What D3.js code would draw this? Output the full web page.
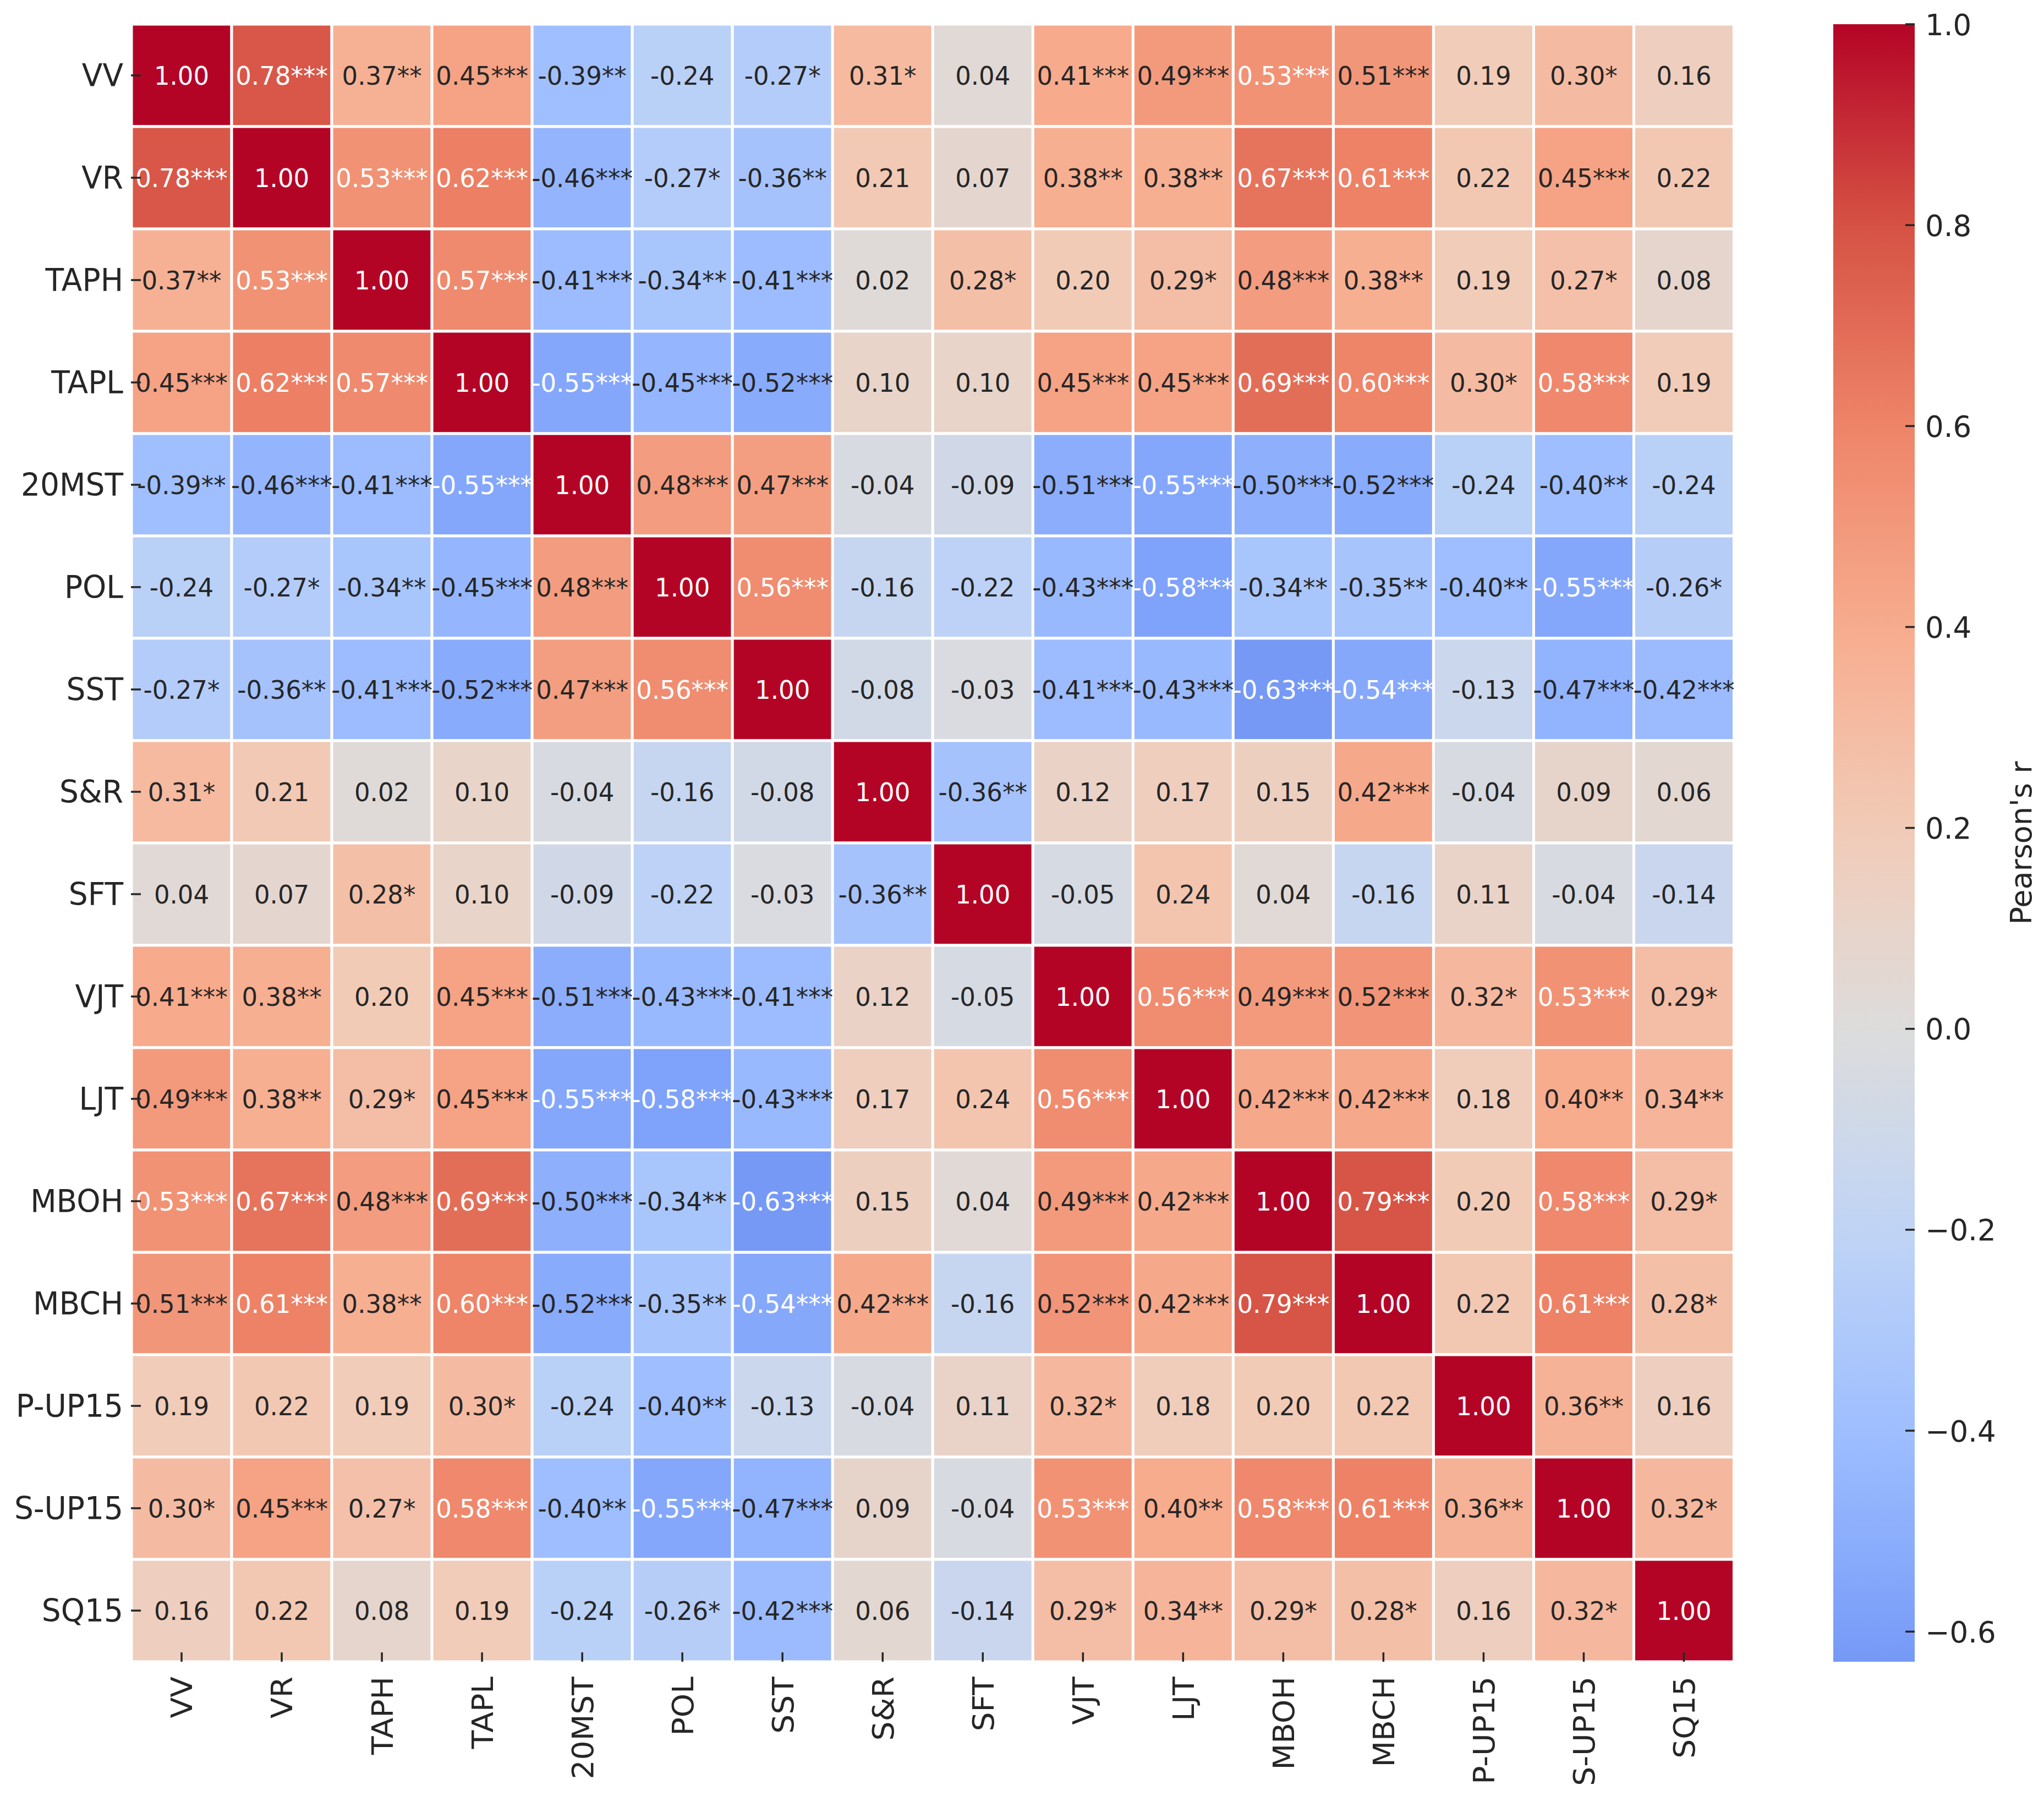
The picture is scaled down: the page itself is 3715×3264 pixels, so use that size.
<!DOCTYPE html>
<html>
<head>
<meta charset="utf-8">
<script src="https://cdn.jsdelivr.net/npm/d3@7"></script>
<style>
  html, body { margin: 0; padding: 0; background: #ffffff; }
  svg { display: block; }
  text { font-family: "DejaVu Sans", sans-serif; }
</style>
</head>
<body>
<svg id="chart" width="3715" height="3264"></svg>
<script>
// ---------------- data ----------------
const labels = ["VV","VR","TAPH","TAPL","20MST","POL","SST","S&R","SFT","VJT","LJT","MBOH","MBCH","P-UP15","S-UP15","SQ15"];

const rowVV    = [1.00, 0.78, 0.37, 0.45, -0.39, -0.24, -0.27, 0.31, 0.04, 0.41, 0.49, 0.53, 0.51, 0.19, 0.30, 0.16];
const rowVR    = [0.78, 1.00, 0.53, 0.62, -0.46, -0.27, -0.36, 0.21, 0.07, 0.38, 0.38, 0.67, 0.61, 0.22, 0.45, 0.22];
const rowTAPH  = [0.37, 0.53, 1.00, 0.57, -0.41, -0.34, -0.41, 0.02, 0.28, 0.20, 0.29, 0.48, 0.38, 0.19, 0.27, 0.08];
const rowTAPL  = [0.45, 0.62, 0.57, 1.00, -0.55, -0.45, -0.52, 0.10, 0.10, 0.45, 0.45, 0.69, 0.60, 0.30, 0.58, 0.19];
const row20MST = [-0.39, -0.46, -0.41, -0.55, 1.00, 0.48, 0.47, -0.04, -0.09, -0.51, -0.55, -0.50, -0.52, -0.24, -0.40, -0.24];
const rowPOL   = [-0.24, -0.27, -0.34, -0.45, 0.48, 1.00, 0.56, -0.16, -0.22, -0.43, -0.58, -0.34, -0.35, -0.40, -0.55, -0.26];
const rowSST   = [-0.27, -0.36, -0.41, -0.52, 0.47, 0.56, 1.00, -0.08, -0.03, -0.41, -0.43, -0.63, -0.54, -0.13, -0.47, -0.42];
const rowSR    = [0.31, 0.21, 0.02, 0.10, -0.04, -0.16, -0.08, 1.00, -0.36, 0.12, 0.17, 0.15, 0.42, -0.04, 0.09, 0.06];
const rowSFT   = [0.04, 0.07, 0.28, 0.10, -0.09, -0.22, -0.03, -0.36, 1.00, -0.05, 0.24, 0.04, -0.16, 0.11, -0.04, -0.14];
const rowVJT   = [0.41, 0.38, 0.20, 0.45, -0.51, -0.43, -0.41, 0.12, -0.05, 1.00, 0.56, 0.49, 0.52, 0.32, 0.53, 0.29];
const rowLJT   = [0.49, 0.38, 0.29, 0.45, -0.55, -0.58, -0.43, 0.17, 0.24, 0.56, 1.00, 0.42, 0.42, 0.18, 0.40, 0.34];
const rowMBOH  = [0.53, 0.67, 0.48, 0.69, -0.50, -0.34, -0.63, 0.15, 0.04, 0.49, 0.42, 1.00, 0.79, 0.20, 0.58, 0.29];
const rowMBCH  = [0.51, 0.61, 0.38, 0.60, -0.52, -0.35, -0.54, 0.42, -0.16, 0.52, 0.42, 0.79, 1.00, 0.22, 0.61, 0.28];
const rowPUP15 = [0.19, 0.22, 0.19, 0.30, -0.24, -0.40, -0.13, -0.04, 0.11, 0.32, 0.18, 0.20, 0.22, 1.00, 0.36, 0.16];
const rowSUP15 = [0.30, 0.45, 0.27, 0.58, -0.40, -0.55, -0.47, 0.09, -0.04, 0.53, 0.40, 0.58, 0.61, 0.36, 1.00, 0.32];
const rowSQ15  = [0.16, 0.22, 0.08, 0.19, -0.24, -0.26, -0.42, 0.06, -0.14, 0.29, 0.34, 0.29, 0.28, 0.16, 0.32, 1.00];

// significance stars (number of *)
const sigVV    = [0,3,2,3,2,0,1,1,0,3,3,3,3,0,1,0];
const sigVR    = [3,0,3,3,3,1,2,0,0,2,2,3,3,0,3,0];
const sigTAPH  = [2,3,0,3,3,2,3,0,1,0,1,3,2,0,1,0];
const sigTAPL  = [3,3,3,0,3,3,3,0,0,3,3,3,3,1,3,0];
const sig20MST = [2,3,3,3,0,3,3,0,0,3,3,3,3,0,2,0];
const sigPOL   = [0,1,2,3,3,0,3,0,0,3,3,2,2,2,3,1];
const sigSST   = [1,2,3,3,3,3,0,0,0,3,3,3,3,0,3,3];
const sigSR    = [1,0,0,0,0,0,0,0,2,0,0,0,3,0,0,0];
const sigSFT   = [0,0,1,0,0,0,0,2,0,0,0,0,0,0,0,0];
const sigVJT   = [3,2,0,3,3,3,3,0,0,0,3,3,3,1,3,1];
const sigLJT   = [3,2,1,3,3,3,3,0,0,3,0,3,3,0,2,2];
const sigMBOH  = [3,3,3,3,3,2,3,0,0,3,3,0,3,0,3,1];
const sigMBCH  = [3,3,2,3,3,2,3,3,0,3,3,3,0,0,3,1];
const sigPUP15 = [0,0,0,1,0,2,0,0,0,1,0,0,0,0,2,0];
const sigSUP15 = [1,3,1,3,2,3,3,0,0,3,2,3,3,2,0,1];
const sigSQ15  = [0,0,0,0,0,1,3,0,0,1,2,1,1,0,1,0];

const colorbarTicks = [1.0, 0.8, 0.6, 0.4, 0.2, 0.0, -0.2, -0.4, -0.6];
const colorbarLabel = "Pearson's r";

const corrRows = [rowVV,rowVR,rowTAPH,rowTAPL,row20MST,rowPOL,rowSST,rowSR,rowSFT,rowVJT,rowLJT,rowMBOH,rowMBCH,rowPUP15,rowSUP15,rowSQ15];
const sigRows  = [sigVV,sigVR,sigTAPH,sigTAPL,sig20MST,sigPOL,sigSST,sigSR,sigSFT,sigVJT,sigLJT,sigMBOH,sigMBCH,sigPUP15,sigSUP15,sigSQ15];

// ---------------- colormap (matplotlib coolwarm samples) ----------------
const coolwarmStops = ["#3b4cc0","#5977e3","#7b9ff9","#9ebeff","#c0d4f5","#dddcdc","#f2cbb7","#f7ac8e","#ee8468","#d65244","#b40426"];
const cw = d3.scaleLinear()
  .domain(d3.range(coolwarmStops.length).map(i => i / (coolwarmStops.length - 1)))
  .range(coolwarmStops)
  .interpolate(d3.interpolateRgb)
  .clamp(true);
// seaborn center=0 -> symmetric range [-1, 1]
const color = v => cw((v + 1) / 2);

function relLum(c) {
  const rgb = d3.rgb(c);
  const lin = [rgb.r, rgb.g, rgb.b].map(x => {
    x = x / 255;
    return x <= 0.03928 ? x / 12.92 : Math.pow((x + 0.055) / 1.055, 2.4);
  });
  return 0.2126 * lin[0] + 0.7152 * lin[1] + 0.0722 * lin[2];
}

// ---------------- layout ----------------
const svg = d3.select("#chart");
svg.append("rect").attr("width", 3715).attr("height", 3264).attr("fill", "#ffffff");

const SY = 1.022; // slight vertical stretch of the reference image
const gx0 = 239, gx1 = 3151.5, gy0 = 44, gy1 = 3020;
const x = d3.scaleBand().domain(labels).range([gx0, gx1]).padding(0);
const y = d3.scaleBand().domain(labels).range([gy0, gy1]).padding(0);

const cells = [];
corrRows.forEach((row, i) => row.forEach((v, j) => {
  cells.push({ r: labels[i], c: labels[j], v: v, s: sigRows[i][j] });
}));

const g = svg.append("g");
g.selectAll("rect.cell").data(cells).enter().append("rect")
  .attr("class", "cell")
  .attr("x", d => x(d.c))
  .attr("y", d => y(d.r))
  .attr("width", x.bandwidth())
  .attr("height", y.bandwidth())
  .attr("fill", d => color(d.v))
  .attr("stroke", "#ffffff")
  .attr("stroke-width", 5);

const fmt = d3.format(".2f");
g.selectAll("text.annot").data(cells).enter().append("text")
  .attr("class", "annot")
  .attr("transform", d => `translate(${x(d.c) + x.bandwidth() / 2},${y(d.r) + y.bandwidth() / 2}) scale(1,${SY})`)
  .attr("dy", "0.36em")
  .attr("text-anchor", "middle")
  .attr("font-size", 45)
  .attr("fill", d => relLum(color(d.v)) > 0.408 ? "#262626" : "#ffffff")
  .text(d => fmt(d.v).replace("\u2212", "-") + "*".repeat(d.s));

// y tick marks + labels
const tickColor = "#262626";
const yAx = svg.append("g");
labels.forEach(l => {
  const cy = y(l) + y.bandwidth() / 2;
  yAx.append("line").attr("x1", 238).attr("x2", 256).attr("y1", cy).attr("y2", cy)
    .attr("stroke", tickColor).attr("stroke-width", 3.5);
  yAx.append("text")
    .attr("transform", `translate(224,${cy}) scale(1,${SY})`)
    .attr("dy", "0.36em")
    .attr("text-anchor", "end").attr("font-size", 55).attr("fill", tickColor).text(l);
});

// x tick marks + labels
const xAx = svg.append("g");
labels.forEach(l => {
  const cx = x(l) + x.bandwidth() / 2;
  xAx.append("line").attr("x1", cx).attr("x2", cx).attr("y1", 3003).attr("y2", 3020)
    .attr("stroke", tickColor).attr("stroke-width", 3.5);
  xAx.append("text")
    .attr("transform", `translate(${cx},3047) scale(1,${SY}) rotate(-90)`)
    .attr("dy", "0.36em")
    .attr("text-anchor", "end").attr("font-size", 54).attr("fill", tickColor).text(l);
});

// ---------------- colorbar ----------------
const vmin = d3.min(corrRows.flat()), vmax = d3.max(corrRows.flat());
const cbX = 3332, cbW = 148;
const cbScale = d3.scaleLinear().domain([vmin, vmax]).range([3020, 44]);

const defs = svg.append("defs");
const grad = defs.append("linearGradient").attr("id", "cbgrad")
  .attr("x1", 0).attr("y1", 1).attr("x2", 0).attr("y2", 0);
d3.range(0, 1.0001, 0.02).forEach(t => {
  const v = vmin + t * (vmax - vmin);
  grad.append("stop").attr("offset", t).attr("stop-color", color(v));
});
svg.append("rect").attr("x", cbX).attr("y", cbScale(vmax)).attr("width", cbW)
  .attr("height", cbScale(vmin) - cbScale(vmax)).attr("fill", "url(#cbgrad)");

const cbFmt = v => (v < 0 ? "\u2212" : "") + d3.format(".1f")(Math.abs(v));
const cbAx = svg.append("g");
colorbarTicks.forEach(t => {
  const ty = cbScale(t);
  cbAx.append("line").attr("x1", cbX + cbW - 17).attr("x2", cbX + cbW).attr("y1", ty).attr("y2", ty)
    .attr("stroke", tickColor).attr("stroke-width", 3.5);
  cbAx.append("text")
    .attr("transform", `translate(${cbX + cbW + 19},${ty}) scale(1,${SY})`)
    .attr("dy", "0.36em")
    .attr("font-size", 53).attr("fill", tickColor).text(cbFmt(t));
});
svg.append("text")
  .attr("transform", `translate(3692,${(cbScale(vmin) + cbScale(vmax)) / 2}) rotate(-90)`)
  .attr("text-anchor", "middle").attr("font-size", 54).attr("fill", tickColor)
  .text(colorbarLabel);
</script>
</body>
</html>
